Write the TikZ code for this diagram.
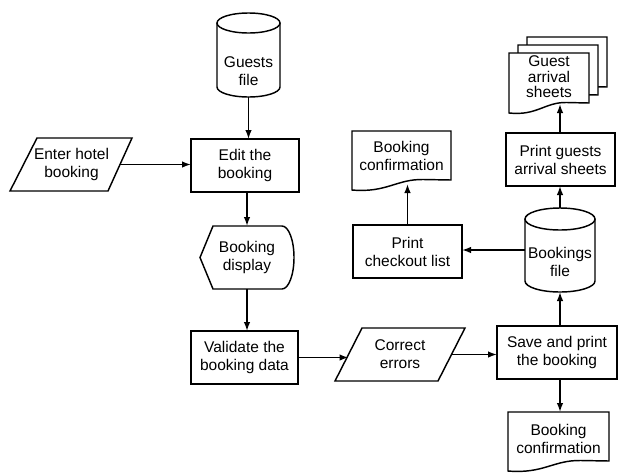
\documentclass[tikz,border=0pt]{standalone}
\usepackage{fontspec}
\setmainfont{Liberation Sans}
\usetikzlibrary{arrows.meta}
\tikzset{
  ln/.style={line width=1.45pt, line join=miter},
  shp/.style={ln, fill=white},
  txtfont/.style={font=\fontsize{15.5}{18}\selectfont},
  box/.style={draw, ln, txtfont, align=center, inner sep=0pt, outer sep=0pt},
  hold/.style={txtfont, align=center, inner sep=0pt, outer sep=0pt},
  lbl/.style={txtfont, align=center, inner sep=0pt},
  arr/.style={ln, -{Latex[length=9pt,width=6.5pt]}},
}
% document symbol: left, right, top, bottom-left (pixel units, y down)
\newcommand\flowdoc[4]{%
  \pgfmathsetmacro\dw{#2-#1}%
  \draw[shp] (#1,-#3) -- (#2,-#3) -- (#2,{-#4+10})
    -- ({#1+0.72*\dw},{-#4+10.5})
    .. controls ({#1+0.45*\dw},{-#4+11}) and ({#1+0.35*\dw},{-#4-3}) .. (#1,-#4) -- cycle;}
% cylinder: centre x, top, bottom, x radius, y radius
\newcommand\flowcyl[5]{%
  \draw[shp] ({#1-#4},{-(#2+#5)}) -- ({#1-#4},{-(#3-#5)})
    arc[start angle=180, end angle=360, x radius=#4, y radius=#5]
    -- ({#1+#4},{-(#2+#5)});
  \draw[ln] (#1,{-(#2+#5)}) ellipse [x radius=#4, y radius=#5];}
\begin{document}
\begin{tikzpicture}[x=1pt,y=1pt]
\useasboundingbox (0,0) rectangle (618,-472);

% ---- Guests file
\flowcyl{248.5}{13}{97}{31.5}{10}
\node[hold, minimum width=63pt, minimum height=84pt] (gf) at (248.5,-55) {};
\node[lbl] (gft) at (248.5,-71) {Guests\\file};

% ---- Enter hotel booking (parallelogram)
\draw[shp] (37,-138) -- (132,-138) -- (108,-191) -- (10,-191) -- cycle;
\node[hold, minimum width=96pt, minimum height=53pt] (enter) at (71.5,-164.5) {Enter hotel\\booking};

% ---- Edit the booking
\node[box, minimum width=108pt, minimum height=53pt] (edit) at (245,-165.5) {Edit the\\booking};

% ---- Booking display
\draw[shp] (200,-257.5) -- (213,-226) -- (282,-226)
  arc[start angle=90, end angle=-90, x radius=12, y radius=31.5]
  -- (213,-289) -- cycle;
\node[hold, minimum width=94pt, minimum height=63pt] (disp) at (247,-257.5) {Booking\\display};

% ---- Validate the booking data
\node[box, minimum width=107pt, minimum height=53pt] (val) at (244.5,-357.5) {Validate the\\booking data};

% ---- Correct errors (parallelogram)
\draw[shp] (362,-328) -- (465,-328) -- (438,-381) -- (335,-381) -- cycle;
\node[hold, minimum width=103pt, minimum height=53pt] (cor) at (400,-354.5) {Correct\\errors};

% ---- Save and print the booking
\node[box, minimum width=120pt, minimum height=53pt] (save) at (557,-352.5) {Save and print\\the booking};

% ---- Booking confirmation (bottom)
\flowdoc{508}{609}{412}{471}
\node[hold, minimum width=101pt, minimum height=48pt] (conf2) at (558.5,-436) {};
\node[lbl] (conf2t) at (558.5,-439) {Booking\\confirmation};

% ---- Bookings file
\flowcyl{560}{208}{292}{35}{11}
\node[hold, minimum width=70pt, minimum height=84pt] (bf) at (560,-250) {};
\node[lbl] (bft) at (560,-262) {Bookings\\file};

% ---- Print checkout list
\node[box, minimum width=109pt, minimum height=53pt] (pc) at (407.5,-251.5) {Print\\checkout list};

% ---- Booking confirmation (top)
\flowdoc{352}{451}{131}{190}
\node[hold, minimum width=99pt, minimum height=53pt] (conf1) at (401.5,-157.5) {};
\node[lbl] (conf1t) at (401.5,-156) {Booking\\confirmation};

% ---- Print guests arrival sheets
\node[box, minimum width=109pt, minimum height=53pt] (pg) at (560.5,-159.5) {Print guests\\arrival sheets};

% ---- Guest arrival sheets (multi-document)
\flowdoc{527}{607}{37}{97}
\flowdoc{518}{598}{45}{105}
\flowdoc{509}{589}{53}{113}
\node[hold, minimum width=80pt, minimum height=51pt] (sheets) at (549,-78.5) {};
\node[lbl, font=\fontsize{15.5}{15.5}\selectfont] (sheetst) at (549,-77) {Guest\\arrival\\sheets};

% ---- connectors
\draw[arr] (gf.south) -- (gf.south |- edit.north);
\draw[arr] (enter.east) -- (enter.east -| edit.west);
\draw[arr] (disp.north |- edit.south) -- (disp.north);
\draw[arr] (disp.south) -- (disp.south |- val.north);
\draw[arr] (val.east) -- (val.east -| cor.west);
\draw[arr] (cor.east) -- (cor.east -| save.west);
\draw[arr] (bf.south |- save.north) -- (bf.south);
\draw[arr] (bf.south |- save.south) -- (bf.south |- conf2.north);
\draw[arr] (bf.north) -- (bf.north |- pg.south);
\draw[arr] (bf.north |- pg.north) -- (bf.north |- sheets.south);
\draw[arr] (bf.west) -- (bf.west -| pc.east);
\draw[arr] (pc.north) -- (pc.north |- conf1.south);
\end{tikzpicture}
\end{document}
